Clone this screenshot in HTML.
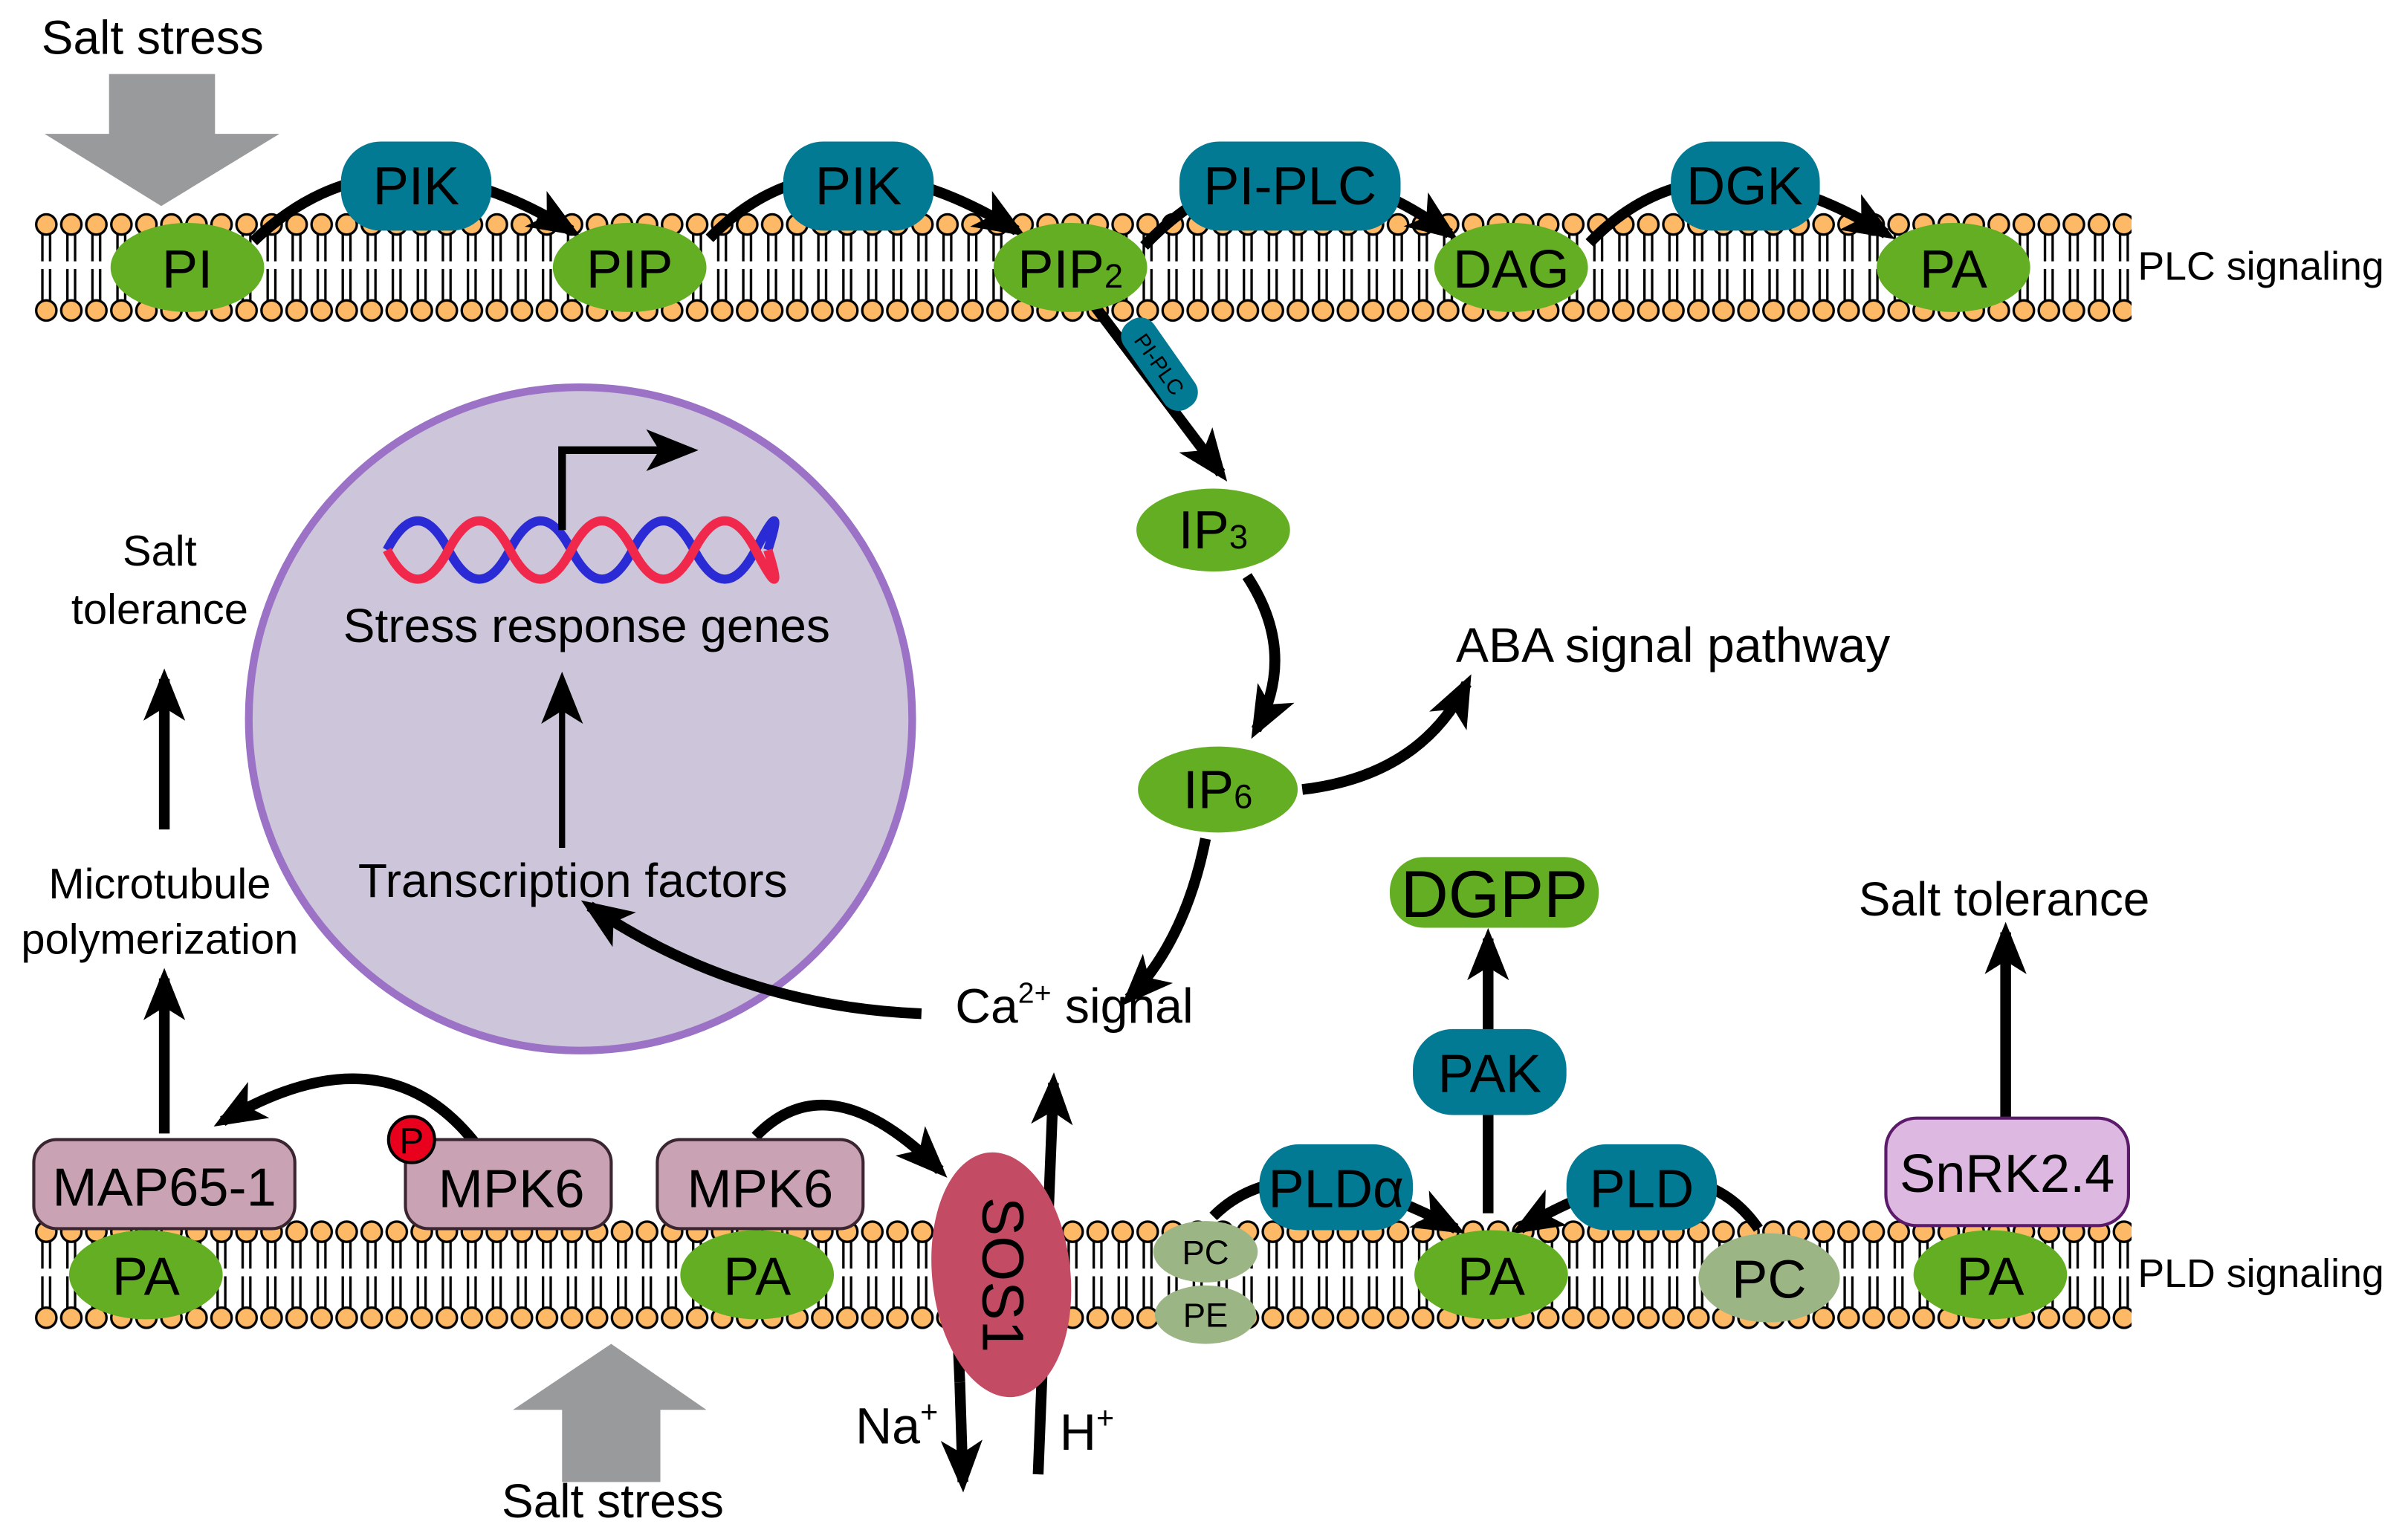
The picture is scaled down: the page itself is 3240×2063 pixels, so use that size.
<!DOCTYPE html>
<html><head><meta charset="utf-8"><style>
html,body{margin:0;padding:0;background:#fff}
svg{display:block}
text{font-family:"Liberation Sans",sans-serif;fill:#000}
</style></head><body>
<svg width="3240" height="2063" viewBox="0 0 1568 998" xmlns="http://www.w3.org/2000/svg">
<defs>
<pattern id="lipT" patternUnits="userSpaceOnUse" x="22" y="138" width="16.3" height="72">
<line x1="5.6" y1="8" x2="5.6" y2="32" stroke="#000" stroke-width="1.6"/>
<line x1="10.6" y1="8" x2="10.6" y2="32" stroke="#000" stroke-width="1.6"/>
<line x1="5.6" y1="37" x2="5.6" y2="62" stroke="#000" stroke-width="1.6"/>
<line x1="10.6" y1="37" x2="10.6" y2="62" stroke="#000" stroke-width="1.6"/>
<circle cx="8.15" cy="8" r="6.6" fill="#fdb966" stroke="#000" stroke-width="1.6"/>
<circle cx="8.15" cy="64" r="6.6" fill="#fdb966" stroke="#000" stroke-width="1.6"/>
</pattern>
<pattern id="lipB" patternUnits="userSpaceOnUse" x="22" y="794" width="16.3" height="72">
<line x1="5.6" y1="8" x2="5.6" y2="32" stroke="#000" stroke-width="1.6"/>
<line x1="10.6" y1="8" x2="10.6" y2="32" stroke="#000" stroke-width="1.6"/>
<line x1="5.6" y1="37" x2="5.6" y2="62" stroke="#000" stroke-width="1.6"/>
<line x1="10.6" y1="37" x2="10.6" y2="62" stroke="#000" stroke-width="1.6"/>
<circle cx="8.15" cy="8" r="6.6" fill="#fdb966" stroke="#000" stroke-width="1.6"/>
<circle cx="8.15" cy="64" r="6.6" fill="#fdb966" stroke="#000" stroke-width="1.6"/>
</pattern>
<marker id="ah" markerUnits="userSpaceOnUse" markerWidth="34" markerHeight="28" viewBox="0 0 10 8" refX="8" refY="4" orient="auto">
<path d="M0,0 L10,4 L0,8 L2.5,4 z" fill="#000"/>
</marker>
</defs>

<rect x="22" y="138" width="1366" height="72" fill="url(#lipT)"/>
<rect x="22" y="794" width="1366" height="72" fill="url(#lipB)"/>

<text x="27" y="35" font-size="31">Salt stress</text>
<polygon points="71,48 140,48 140,87 182,87 105,134 29,87 71,87" fill="#999a9c"/>

<g fill="none" stroke="#000" stroke-width="7" marker-end="url(#ah)">
<path d="M165,157 Q250,75 372,150"/>
<path d="M462,155 Q540,75 662,150"/>
<path d="M745,160 Q830,70 944,152"/>
<path d="M1035,158 Q1110,80 1228,152"/>
<path d="M712,198 L795,308"/>
<path d="M812,375 Q845,425 818,475"/>
<path d="M848,514 Q925,505 955,445"/>
<path d="M785,546 Q772,612 735,650"/>
</g>

<g fill="#037a94">
<rect x="222" y="92" width="98" height="58" rx="26"/>
<rect x="510" y="92" width="98" height="58" rx="26"/>
<rect x="768" y="92" width="144" height="58" rx="26"/>
<rect x="1088" y="92" width="97" height="58" rx="26"/>
</g>
<g font-size="35" text-anchor="middle">
<text x="271" y="133">PIK</text>
<text x="559" y="133">PIK</text>
<text x="840" y="133">PI-PLC</text>
<text x="1136" y="133">DGK</text>
</g>

<g fill="#63ae22">
<ellipse cx="122" cy="174" rx="50" ry="29"/>
<ellipse cx="410" cy="174" rx="50" ry="29"/>
<ellipse cx="697" cy="174" rx="50" ry="29"/>
<ellipse cx="984" cy="174" rx="50" ry="29"/>
<ellipse cx="1272" cy="174" rx="50" ry="29"/>
<ellipse cx="790" cy="345" rx="50" ry="27"/>
<ellipse cx="793" cy="514" rx="52" ry="28"/>
</g>
<g font-size="35" text-anchor="middle">
<text x="122" y="187">PI</text>
<text x="410" y="187">PIP</text>
<text x="697" y="187">PIP<tspan font-size="22">2</tspan></text>
<text x="984" y="187">DAG</text>
<text x="1272" y="187">PA</text>
<text x="790" y="357">IP<tspan font-size="22">3</tspan></text>
<text x="793" y="526">IP<tspan font-size="22">6</tspan></text>
</g>
<text x="1392" y="182" font-size="26">PLC signaling</text>

<g transform="translate(755,237) rotate(55)">
<rect x="-34" y="-12" width="68" height="24" rx="11" fill="#037a94"/>
<text x="0" y="5" font-size="14" text-anchor="middle">PI-PLC</text>
</g>

<text x="948" y="431" font-size="32">ABA signal pathway</text>
<text x="622" y="666" font-size="32">Ca<tspan font-size="19" dy="-13">2+</tspan><tspan dy="13"> signal</tspan></text>

<circle cx="378" cy="468" r="216" fill="#cdc5da" stroke="#9b72c5" stroke-width="5"/>
<path d="M252,358 q20,-38 40,0 t40,0 t40,0 t40,0 t40,0 t40,0 t8,0" fill="none" stroke="#2b2bd6" stroke-width="6"/>
<path d="M252,358 q20,38 40,0 t40,0 t40,0 t40,0 t40,0 t40,0 t8,0" fill="none" stroke="#f0284b" stroke-width="6"/>
<path d="M366,345 V293 H448" fill="none" stroke="#000" stroke-width="5" marker-end="url(#ah)"/>
<text x="382" y="418" font-size="31" text-anchor="middle">Stress response genes</text>
<text x="373" y="584" font-size="31" text-anchor="middle">Transcription factors</text>
<path d="M366,552 V444" stroke="#000" stroke-width="4" marker-end="url(#ah)"/>
<path d="M600,660 Q480,655 384,590" fill="none" stroke="#000" stroke-width="7" marker-end="url(#ah)"/>

<g font-size="28" text-anchor="middle">
<text x="104" y="368">Salt</text>
<text x="104" y="406">tolerance</text>
<text x="104" y="585">Microtubule</text>
<text x="104" y="621">polymerization</text>
</g>
<g stroke="#000" stroke-width="7" fill="none" marker-end="url(#ah)">
<path d="M107,540 V442"/>
<path d="M107,738 V637"/>
<path d="M310,745 Q250,668 145,730"/>
<path d="M492,740 Q540,690 612,762"/>
<path d="M969,672 V611"/>
<path d="M1306,730 V607"/>
<path d="M790,792 Q840,742 948,800"/>
<path d="M1145,800 Q1100,735 990,800"/>
<path d="M625,900 L627,965"/>
<path d="M676,960 L686,705"/>
</g>
<g stroke="#000" stroke-width="7">
<line x1="620" y1="785" x2="625" y2="900"/>
<line x1="969" y1="790" x2="969" y2="722"/>
</g>

<g fill="#c9a3b3" stroke="#3a2530" stroke-width="2">
<rect x="22" y="742" width="170" height="58" rx="15"/>
<rect x="264" y="742" width="134" height="58" rx="15"/>
<rect x="428" y="742" width="134" height="58" rx="15"/>
</g>
<g font-size="35" text-anchor="middle">
<text x="107" y="785">MAP65-1</text>
<text x="333" y="786">MPK6</text>
<text x="495" y="786">MPK6</text>
</g>
<circle cx="268" cy="742" r="15" fill="#e8001c" stroke="#000" stroke-width="2"/>
<text x="268" y="751" font-size="24" text-anchor="middle">P</text>

<g fill="#63ae22">
<ellipse cx="95" cy="830" rx="50" ry="29"/>
<ellipse cx="493" cy="830" rx="50" ry="29"/>
<ellipse cx="971" cy="830" rx="50" ry="29"/>
<ellipse cx="1296" cy="830" rx="50" ry="29"/>
<rect x="905" y="558" width="136" height="46" rx="22"/>
</g>
<g fill="#9bb585">
<ellipse cx="785" cy="815" rx="34" ry="20"/>
<ellipse cx="785" cy="856" rx="33" ry="19"/>
<ellipse cx="1152" cy="832" rx="46" ry="29"/>
</g>
<g fill="#037a94">
<rect x="920" y="670" width="100" height="56" rx="26"/>
<rect x="820" y="745" width="100" height="56" rx="26"/>
<rect x="1020" y="745" width="98" height="56" rx="26"/>
</g>
<rect x="1228" y="728" width="158" height="70" rx="20" fill="#ddb9e1" stroke="#5b1a6a" stroke-width="2"/>

<g font-size="35" text-anchor="middle">
<text x="95" y="843">PA</text>
<text x="493" y="843">PA</text>
<text x="971" y="843">PA</text>
<text x="1296" y="843">PA</text>
<text x="1152" y="845">PC</text>
<text x="970" y="711">PAK</text>
<text x="870" y="786">PLDα</text>
<text x="1069" y="786">PLD</text>
<text x="1307" y="776">SnRK2.4</text>
<text x="973" y="597" font-size="43">DGPP</text>
</g>
<text x="785" y="823" font-size="22" text-anchor="middle">PC</text>
<text x="785" y="864" font-size="22" text-anchor="middle">PE</text>
<text x="1305" y="596" font-size="31" text-anchor="middle">Salt tolerance</text>
<text x="1392" y="838" font-size="26">PLD signaling</text>

<ellipse cx="652" cy="830" rx="45" ry="80" transform="rotate(-6 652 830)" fill="#c44b64"/>
<text transform="translate(640,830) rotate(90)" font-size="38" text-anchor="middle">SOS1</text>
<text x="557" y="940" font-size="33">Na<tspan font-size="20" dy="-14">+</tspan></text>
<text x="690" y="944" font-size="33">H<tspan font-size="20" dy="-14">+</tspan></text>

<polygon points="398,875 460,918 430,918 430,965 366,965 366,918 334,918" fill="#999a9c"/>
<text x="399" y="988" font-size="31" text-anchor="middle">Salt stress</text>
</svg>
</body></html>
